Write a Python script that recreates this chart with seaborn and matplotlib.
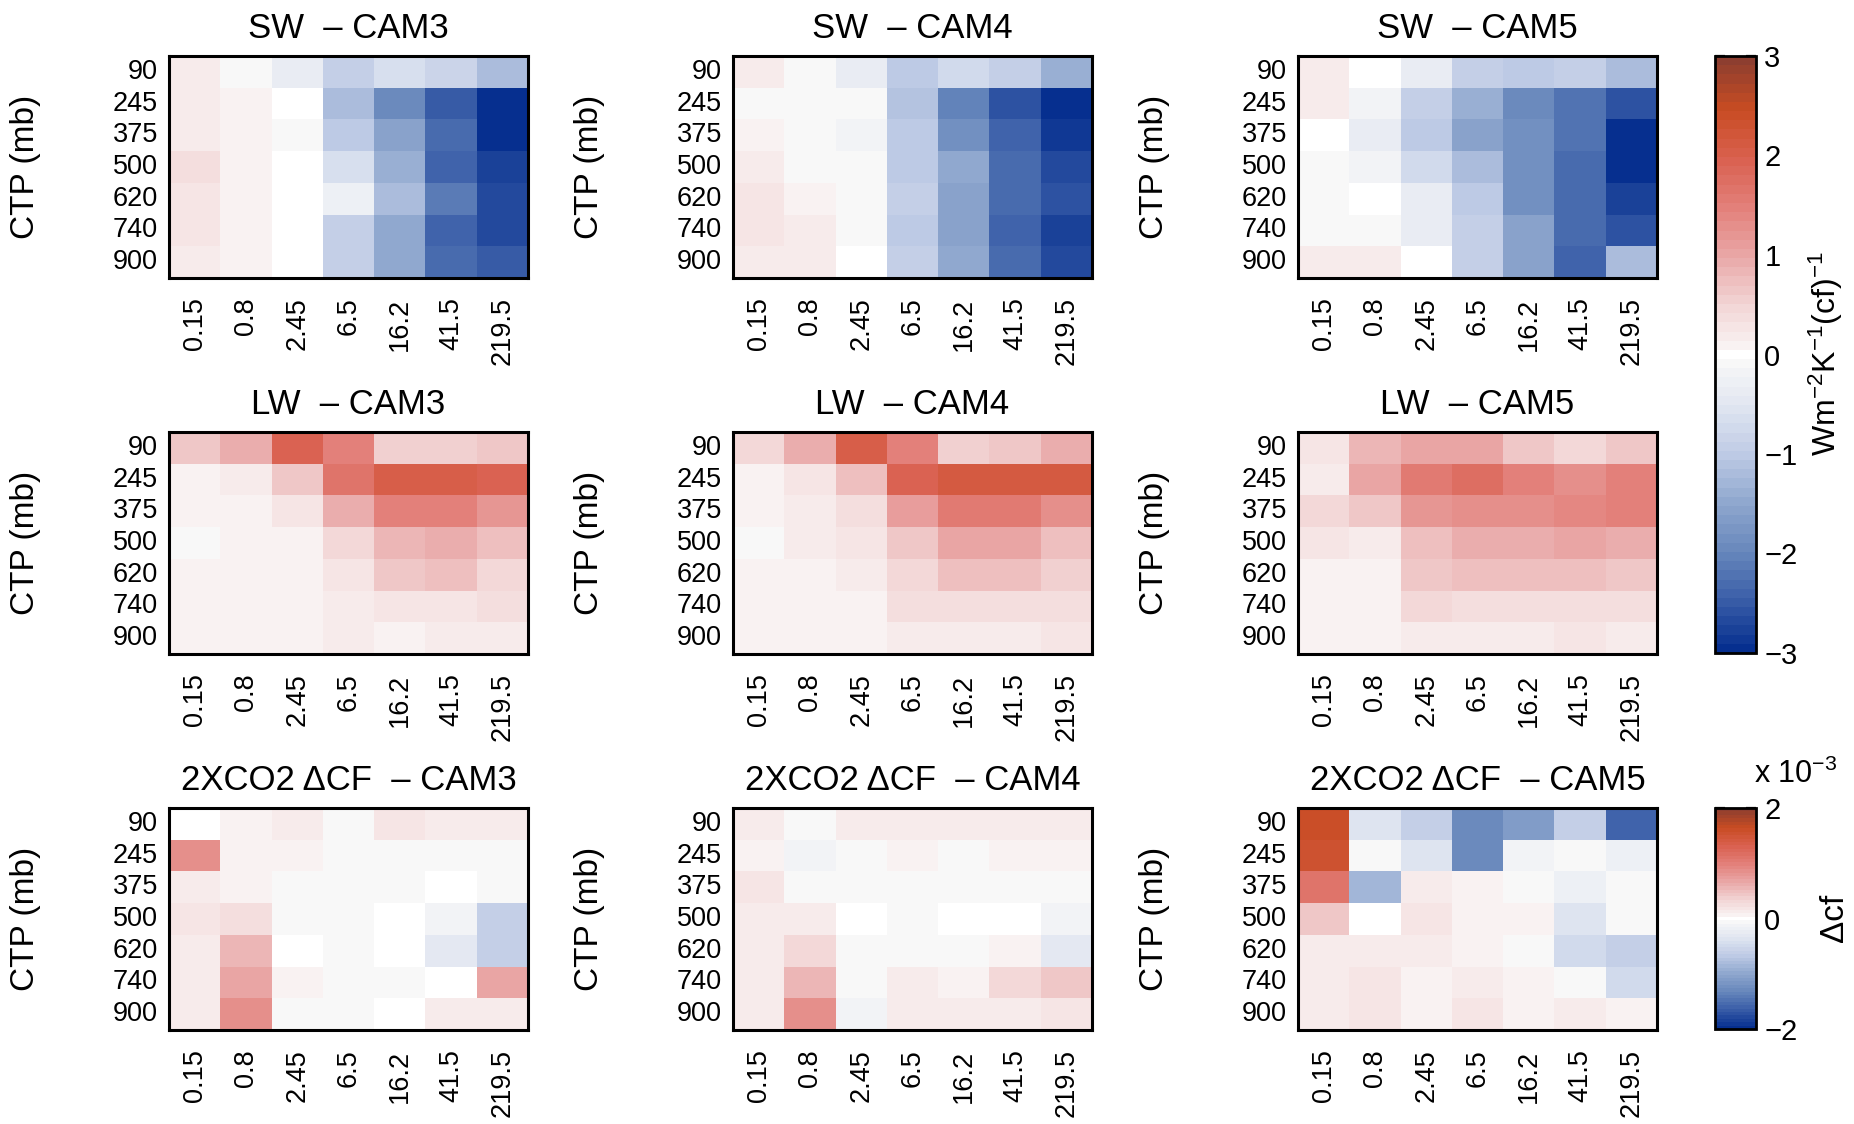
import numpy as np
import matplotlib
matplotlib.use("Agg")
import matplotlib.pyplot as plt
import seaborn as sns
from matplotlib.colors import LinearSegmentedColormap

sns.set_style("white")
plt.rcParams['font.family'] = ['Liberation Sans', 'DejaVu Sans']
plt.rcParams['mathtext.fontset'] = 'custom'
plt.rcParams['mathtext.rm'] = 'Liberation Sans'
plt.rcParams['mathtext.it'] = 'Liberation Sans:italic'
plt.rcParams['mathtext.bf'] = 'Liberation Sans:bold'
for k in ['text.color', 'axes.labelcolor', 'xtick.color', 'ytick.color', 'axes.edgecolor']:
    plt.rcParams[k] = 'black'

# ---------------- data ----------------
tau_labels = ["0.15", "0.8", "2.45", "6.5", "16.2", "41.5", "219.5"]
ctp_labels = ["90", "245", "375", "500", "620", "740", "900"]
models = ["CAM3", "CAM4", "CAM5"]

sw_cam3 = [
    [0.15, -0.05, -0.4, -0.95, -0.6, -0.85, -1.2],
    [0.15, 0.1, 0.0, -1.2, -1.9, -2.5, -3.0],
    [0.15, 0.1, -0.05, -1.05, -1.6, -2.3, -3.0],
    [0.35, 0.1, 0.0, -0.6, -1.4, -2.4, -2.8],
    [0.3, 0.1, 0.0, -0.3, -1.2, -2.1, -2.7],
    [0.3, 0.1, 0.0, -0.9, -1.5, -2.4, -2.7],
    [0.2, 0.1, 0.0, -0.9, -1.5, -2.3, -2.5],
]
sw_cam4 = [
    [0.15, -0.05, -0.35, -1.0, -0.7, -0.9, -1.4],
    [-0.05, -0.05, -0.05, -1.15, -2.0, -2.6, -3.0],
    [0.1, -0.05, -0.15, -1.0, -1.8, -2.4, -2.9],
    [0.2, -0.05, -0.1, -1.0, -1.5, -2.3, -2.7],
    [0.3, 0.1, -0.05, -0.9, -1.6, -2.3, -2.6],
    [0.3, 0.15, -0.05, -1.0, -1.6, -2.4, -2.8],
    [0.15, 0.15, 0.0, -0.9, -1.5, -2.3, -2.7],
]
sw_cam5 = [
    [0.15, 0.0, -0.35, -0.9, -1.0, -0.9, -1.2],
    [0.15, -0.15, -0.9, -1.4, -1.9, -2.2, -2.6],
    [0.0, -0.35, -1.0, -1.6, -1.8, -2.2, -3.0],
    [-0.05, -0.15, -0.7, -1.2, -1.8, -2.3, -3.0],
    [-0.05, 0.0, -0.35, -1.05, -1.8, -2.3, -2.8],
    [-0.05, -0.05, -0.4, -0.95, -1.6, -2.3, -2.6],
    [0.2, 0.15, 0.0, -0.9, -1.6, -2.4, -1.2],
]
lw_cam3 = [
    [0.6, 0.9, 1.9, 1.5, 0.55, 0.55, 0.6],
    [0.1, 0.2, 0.6, 1.7, 2.0, 2.05, 1.9],
    [0.05, 0.1, 0.3, 0.9, 1.5, 1.5, 1.2],
    [-0.05, 0.1, 0.1, 0.45, 0.8, 0.95, 0.75],
    [0.05, 0.1, 0.1, 0.3, 0.6, 0.75, 0.45],
    [0.1, 0.1, 0.1, 0.2, 0.3, 0.3, 0.35],
    [0.1, 0.1, 0.1, 0.15, 0.1, 0.15, 0.15],
]
lw_cam4 = [
    [0.45, 0.9, 2.0, 1.5, 0.55, 0.6, 0.9],
    [0.1, 0.3, 0.75, 1.9, 2.1, 2.1, 2.1],
    [0.05, 0.15, 0.35, 1.15, 1.6, 1.6, 1.3],
    [-0.05, 0.15, 0.3, 0.6, 1.0, 1.0, 0.75],
    [0.05, 0.1, 0.15, 0.45, 0.75, 0.75, 0.55],
    [0.05, 0.05, 0.1, 0.35, 0.35, 0.35, 0.35],
    [0.05, 0.1, 0.1, 0.15, 0.15, 0.15, 0.3],
]
lw_cam5 = [
    [0.3, 0.8, 1.0, 1.0, 0.6, 0.45, 0.6],
    [0.15, 1.0, 1.6, 1.8, 1.5, 1.3, 1.5],
    [0.45, 0.6, 1.2, 1.3, 1.3, 1.4, 1.5],
    [0.3, 0.15, 0.75, 0.9, 0.9, 1.0, 0.9],
    [0.1, 0.1, 0.6, 0.75, 0.75, 0.75, 0.6],
    [0.1, 0.1, 0.45, 0.35, 0.35, 0.35, 0.35],
    [0.05, 0.1, 0.15, 0.15, 0.15, 0.3, 0.15],
]
# Delta cloud fraction, in units of 1e-3
dcf_cam3 = [
    [0.0, 0.05, 0.1, -0.05, 0.2, 0.1, 0.1],
    [0.85, 0.05, 0.05, -0.05, -0.05, -0.05, -0.05],
    [0.1, 0.05, -0.05, -0.05, -0.05, 0.0, -0.05],
    [0.2, 0.25, -0.05, -0.05, 0.0, -0.1, -0.6],
    [0.1, 0.55, 0.0, -0.05, 0.0, -0.3, -0.6],
    [0.1, 0.7, 0.05, -0.05, -0.05, 0.0, 0.65],
    [0.1, 0.85, -0.05, -0.05, 0.0, 0.1, 0.15],
]
dcf_cam4 = [
    [0.1, -0.05, 0.1, 0.1, 0.1, 0.1, 0.1],
    [0.05, -0.15, -0.05, 0.05, -0.05, 0.05, 0.05],
    [0.2, -0.05, -0.05, -0.05, -0.05, -0.05, -0.05],
    [0.15, 0.15, 0.0, -0.05, 0.0, 0.0, -0.15],
    [0.1, 0.3, -0.05, -0.05, -0.05, 0.05, -0.3],
    [0.1, 0.55, -0.05, 0.15, 0.05, 0.3, 0.4],
    [0.15, 0.85, -0.15, 0.15, 0.1, 0.1, 0.2],
]
dcf_cam5 = [
    [1.6, -0.4, -0.6, -1.3, -1.1, -0.6, -1.6],
    [1.55, -0.05, -0.4, -1.3, -0.15, -0.07, -0.2],
    [1.1, -0.85, 0.15, 0.05, -0.05, -0.2, -0.05],
    [0.4, 0.0, 0.2, 0.05, 0.05, -0.4, -0.05],
    [0.15, 0.15, 0.1, 0.05, -0.05, -0.5, -0.6],
    [0.1, 0.2, 0.05, 0.15, 0.05, -0.05, -0.5],
    [0.15, 0.2, 0.05, 0.2, 0.05, 0.15, 0.05],
]

# ---------------- colormap ----------------
anchors = [
    (-3.0, "#062f8f"), (-2.5, "#3a5ea8"), (-2.0, "#6888bc"), (-1.5, "#90a8cf"),
    (-1.0, "#c0cce6"), (-0.5, "#e2e7f1"), (-0.1, "#f7f7f8"), (0.0, "#ffffff"),
    (0.1, "#f9f1f1"), (0.5, "#f2d6d6"), (1.0, "#e9a7a7"), (1.5, "#e3807a"),
    (2.0, "#d9604f"), (2.5, "#c84c22"), (3.0, "#8d3e30"),
]
cmap = LinearSegmentedColormap.from_list(
    "cfk", [((v + 3) / 6, c) for v, c in anchors], N=65)

# ---------------- layout ----------------
W, H = 1854, 1124
fig = plt.figure(figsize=(W / 100, H / 100), dpi=100)
lefts = [169, 733, 1298]
tops = [56, 432, 808]
aw, ah = 359, 222

rows = [
    ("SW", [sw_cam3, sw_cam4, sw_cam5], 3.0),
    ("LW", [lw_cam3, lw_cam4, lw_cam5], 3.0),
    ("2XCO2 \u0394CF", [dcf_cam3, dcf_cam4, dcf_cam5], 2.0),
]

cax1 = fig.add_axes([1715 / W, 1 - 653 / H, 41 / W, (653 - 56) / H])
cax2 = fig.add_axes([1715 / W, 1 - 1029 / H, 41 / W, (1029 - 808) / H])
caxes = {0: cax1, 2: cax2}

tick_fs = 19.5
for r, (prefix, datas, lim) in enumerate(rows):
    for c in range(3):
        ax = fig.add_axes([lefts[c] / W, 1 - (tops[r] + ah) / H, aw / W, ah / H])
        use_cbar = (c == 0 and r in caxes)
        sns.heatmap(np.array(datas[c]), ax=ax, cmap=cmap, vmin=-lim, vmax=lim,
                    xticklabels=tau_labels, yticklabels=ctp_labels,
                    cbar=use_cbar, cbar_ax=caxes[r] if use_cbar else None)
        for s in ax.spines.values():
            s.set_visible(True)
            s.set_linewidth(2.2)
            s.set_color("black")
        ax.tick_params(axis="both", which="major", direction="in", length=5, width=1.6,
                       top=True, right=True, bottom=True, left=True, colors="black",
                       labelsize=tick_fs)
        ax.tick_params(axis="x", pad=14, labelrotation=90)
        ax.tick_params(axis="y", pad=8, labelrotation=0)
        ax.set_title(f"{prefix}  \u2013 {models[c]}", fontsize=25, pad=13, color="black")
        ax.set_ylabel("CTP (mb)", fontsize=24, va="center", color="black")
        ax.yaxis.set_label_coords(-0.40, 0.5)
        if use_cbar:
            cb = ax.collections[0].colorbar
            cb.outline.set_visible(True)
            cb.outline.set_linewidth(2.0)
            cb.outline.set_edgecolor("black")
            if r == 0:
                cb.set_ticks([-3, -2, -1, 0, 1, 2, 3])
            else:
                cb.set_ticks([-2, 0, 2])
            cb.ax.tick_params(direction="in", length=7, width=1.6, left=True, right=True,
                              labelsize=21, pad=6, colors="black")

fig.text(1826 / W, 1 - 354 / H, r"Wm$^{-2}$K$^{-1}$(cf)$^{-1}$", rotation=90,
         ha="center", va="center", fontsize=23)
fig.text(1835 / W, 1 - 918 / H, "\u0394cf", rotation=90, ha="center", va="center",
         fontsize=24)
fig.text(1754 / W, 1 - 783 / H, r"x 10$^{-3}$", ha="left", va="baseline", fontsize=22)

fig.savefig("out.png", dpi=100)
